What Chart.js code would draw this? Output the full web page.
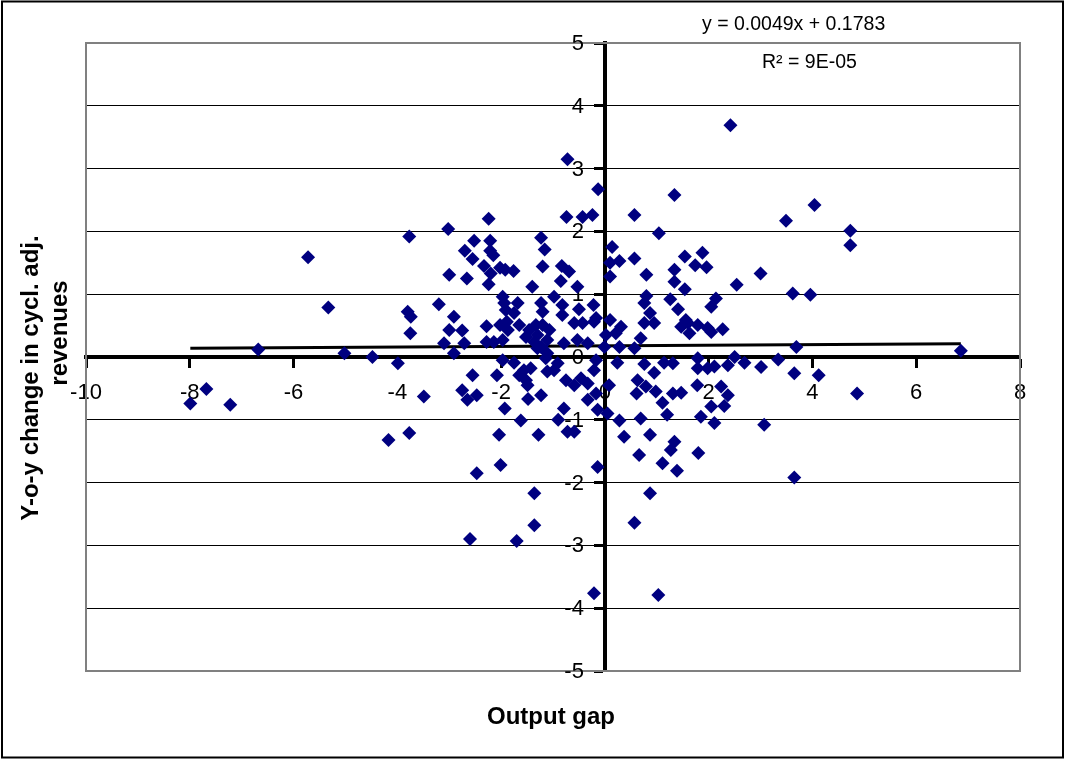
<!DOCTYPE html>
<html>
<head>
<meta charset="utf-8">
<script src="https://cdn.jsdelivr.net/npm/chart.js@4.4.1/dist/chart.umd.min.js"></script>
<style>
  html, body { margin: 0; padding: 0; background: #fff; }
  #wrap { width: 1066px; height: 760px; position: relative; }
</style>
</head>
<body>
<div id="wrap"><canvas id="chart"></canvas></div>
<script>
// output gap (x) and y-o-y change in cyclically adjusted revenues (y)
const outputGap = [
  -7.99, -7.68, -7.22, -6.68, -5.72, -5.33, -5.02, -4.48, -4.17, -3.99,
  -3.77, -3.80, -3.74, -3.75, -3.77, -3.49, -3.20, -3.02, -3.00, -3.00,
  -3.10, -2.91, -2.91, -2.75, -2.71, -2.75, -2.65, -2.47, -2.55, -2.70,
  -2.66, -2.55, -2.52, -2.60, -2.47, -2.33, -2.24, -2.21, -2.21, -2.15,
  -2.20, -2.24, -2.28, -2.28, -2.14, -2.08, -2.04, -2.01, -2.02, -2.02,
  -1.97, -1.94, -1.91, -1.92, -1.89, -1.87, -1.97, -1.97, -1.93, -1.76,
  -1.75, -1.68, -1.65, -1.75, -1.65, -1.56, -1.62, -1.70, -1.52, -1.46,
  -1.43, -1.52, -1.49, -1.48, -1.40, -1.36, -1.36, -1.36, -1.33, -1.30,
  -1.30, -1.28, -1.23, -1.23, -1.23, -1.23, -1.20, -1.20, -1.20, -1.16,
  -1.14, -1.11, -1.11, -1.11, -1.07, -0.98, -0.98, -0.91, -0.90, -0.85,
  -0.83, -0.82, -0.82, -0.79, -0.79, -0.75, -0.74, -0.72, -0.72, -0.69,
  -0.59, -0.59, -0.59, -0.53, -0.53, -0.50, -0.46, -0.43, -0.43, -0.33,
  -0.33, -0.33, -0.24, -0.22, -0.21, -0.21, -0.21, -0.17, -0.17, -0.17,
  -0.14, -0.14, -0.13, -0.01, 0.02, 0.05, 0.08, 0.10, 0.10, 0.10,
  0.14, 0.21, 0.24, 0.28, 0.28, 0.28, 0.31, 0.37, 0.57, 0.57,
  0.57, 0.57, 0.61, 0.63, 0.66, 0.69, 0.69, 0.76, 0.76, 0.76,
  0.79, 0.80, 0.80, 0.87, 0.87, 0.87, 0.95, 0.95, 0.98, 1.03,
  1.04, 1.11, 1.11, 1.14, 1.20, 1.26, 1.27, 1.31, 1.31, 1.34,
  1.34, 1.34, 1.34, 1.39, 1.41, 1.47, 1.47, 1.54, 1.54, 1.56,
  1.60, 1.63, 1.74, 1.78, 1.79, 1.79, 1.79, 1.80, 1.85, 1.88,
  1.96, 1.98, 1.98, 2.05, 2.05, 2.05, 2.11, 2.11, 2.14, 2.24,
  2.27, 2.30, 2.37, 2.37, 2.42, 2.50, 2.54, 2.69, 3.00, 3.01,
  3.07, 3.34, 3.49, 3.62, 3.65, 3.65, 3.69, 3.96, 4.04, 4.12,
  4.73, 4.73, 4.86, 6.86
];
const revenueChange = [
  -0.74, -0.51, -0.76, 0.12, 1.59, 0.79, 0.06, 0.00, -1.32, -0.10,
  1.92, 0.72, 0.64, 0.38, -1.21, -0.63, 0.84, 2.04, 1.31, 0.43,
  0.22, 0.64, 0.06, 0.42, 0.22, -0.53, -0.68, -0.61, -0.29, 1.69,
  1.25, 1.56, 1.85, -2.90, -1.85, 1.45, 2.20, 1.85, 1.69, 1.62,
  1.33, 1.16, 0.49, 0.24, 0.24, -0.29, -1.24, -1.72, 1.42, 0.51,
  0.96, 0.86, 0.75, 1.39, 0.56, 0.43, 0.27, -0.05, -0.82, 1.37,
  0.70, 0.86, 0.51, -0.09, -0.29, -0.21, -1.01, -2.93, 0.32, 0.43,
  -0.18, -0.37, -0.45, -0.67, 1.12, 0.24, -2.17, -2.68, 0.51, 0.35,
  0.14, -1.24, 1.90, 0.86, 0.16, -0.61, 1.44, 0.72, 0.51, 1.71,
  -0.02, 0.27, 0.06, -0.23, 0.43, 0.96, -0.21, -0.10, -1.00, 1.21,
  1.45, 0.83, 0.67, 0.22, -0.82, -0.37, 2.23, 3.15, -1.19, 1.36,
  0.54, -0.45, -1.19, 1.12, 0.27, 0.76, -0.34, 2.23, 0.54, 0.22,
  -0.42, -0.68, 2.26, 0.83, 0.56, -0.21, -3.76, 0.62, -0.05, -0.58,
  -0.84, -1.75, 2.67, 0.16, 0.35, -0.90, -0.45, 1.50, 1.28, 0.59,
  1.75, 0.38, -0.09, 1.53, 0.16, -1.01, 0.48, -1.27, 2.26, 1.57,
  0.14, -2.64, -0.58, -0.37, -1.56, 0.30, -0.98, 0.86, 0.54, -0.11,
  -0.47, 1.31, 0.97, 0.70, -1.24, -2.17, 0.54, -0.25, -0.55, -3.79,
  1.97, -0.73, -1.69, -0.09, -0.92, 0.92, -1.48, -0.10, -0.58, 2.58,
  1.39, 1.20, -1.35, -1.81, 0.76, 0.48, -0.57, 1.60, 1.08, 0.59,
  0.54, 0.38, 1.46, -0.45, 0.51, -0.02, -0.18, -1.53, -0.95, 1.66,
  1.43, 0.46, -0.18, 0.80, 0.40, -0.79, -0.15, -1.05, 0.93, -0.47,
  0.44, -0.78, -0.13, -0.61, 3.69, 0.00, 1.15, -0.09, 1.33, -0.16,
  -1.08, -0.04, 2.17, 1.01, -0.26, -1.92, 0.16, 0.99, 2.42, -0.29,
  2.01, 1.78, -0.58, 0.10
];

// linear trendline as printed on the chart
const trendSlope = 0.0049;
const trendIntercept = 0.1783;
const trendLabel = "y = 0.0049x + 0.1783";
const rSquaredLabel = "R\u00b2 = 9E-05";

const xRange = [-10, 8];
const yRange = [-5, 5];
const xTitle = "Output gap";
const yTitle = ["Y-o-y change in cycl. adj.", "revenues"];

const FONT = "'Liberation Sans', Arial, sans-serif";

const points = outputGap.map((x, i) => ({ x: x, y: revenueChange[i] }));
const xMin = Math.min(...outputGap);
const xMax = Math.max(...outputGap);
const trend = [xMin, xMax].map((x) => ({ x: x, y: trendSlope * x + trendIntercept }));

const chartText = {
  id: "chartText",
  beforeDraw(chart) {
    const ctx = chart.ctx;
    ctx.save();
    ctx.fillStyle = "#fff";
    ctx.fillRect(0, 0, chart.width, chart.height);
    ctx.restore();
  },
  beforeDatasetsDraw(chart) {
    const { ctx, chartArea: a, scales } = chart;
    ctx.save();
    // grey plot area frame
    ctx.strokeStyle = "#808080";
    ctx.lineWidth = 2;
    ctx.strokeRect(a.left, a.top, a.right - a.left, a.bottom - a.top);

    // y tick labels, left of the crossing axis (chart.js puts them on the line)
    const axisX = scales.x.getPixelForValue(0);
    ctx.fillStyle = "#000";
    ctx.font = "22px " + FONT;
    ctx.textAlign = "right";
    ctx.textBaseline = "middle";
    scales.y.ticks.forEach((t) => {
      ctx.fillText(String(t.value), axisX - 21, scales.y.getPixelForValue(t.value) + 1);
    });
    ctx.restore();
  },
  afterDraw(chart) {
    const ctx = chart.ctx;
    ctx.save();
    ctx.fillStyle = "#000";

    // trendline equation
    ctx.font = "19.5px " + FONT;
    ctx.textAlign = "left";
    ctx.textBaseline = "alphabetic";
    ctx.fillText(trendLabel, 702, 30);
    ctx.fillText(rSquaredLabel, 762, 68);

    // axis titles
    ctx.font = "bold 24px " + FONT;
    ctx.textAlign = "center";
    ctx.fillText(xTitle, 551, 724);

    ctx.save();
    ctx.translate(38, 378);
    ctx.rotate(-Math.PI / 2);
    ctx.fillText(yTitle[0], 0, 0);
    ctx.restore();
    ctx.save();
    ctx.translate(67, 333);
    ctx.rotate(-Math.PI / 2);
    ctx.fillText(yTitle[1], 0, 0);
    ctx.restore();

    // outer frame
    ctx.strokeStyle = "#000";
    ctx.lineWidth = 2;
    ctx.strokeRect(2, 1.5, 1061, 756);
    ctx.restore();
  }
};

new Chart(document.getElementById("chart"), {
  type: "scatter",
  data: {
    datasets: [
      {
        data: points,
        pointStyle: "rectRot",
        pointRadius: 7,
        backgroundColor: "#000080",
        borderColor: "#000080",
        borderWidth: 0
      },
      {
        data: trend,
        showLine: true,
        borderColor: "#000",
        borderWidth: 3,
        pointRadius: 0
      }
    ]
  },
  plugins: [chartText],
  options: {
    responsive: true,
    maintainAspectRatio: false,
    animation: false,
    devicePixelRatio: 1,
    layout: { padding: { left: 86, top: 43, right: 46, bottom: 89 } },
    plugins: {
      legend: { display: false },
      tooltip: { enabled: false }
    },
    scales: {
      x: {
        type: "linear",
        min: xRange[0],
        max: xRange[1],
        position: { y: 0 },
        ticks: {
          stepSize: 2,
          color: "#000",
          padding: 14,
          font: { family: FONT, size: 22 }
        },
        grid: {
          drawOnChartArea: false,
          drawTicks: true,
          tickLength: 9,
          tickWidth: 3,
          tickColor: "#000"
        },
        border: { color: "#000", width: 4 }
      },
      y: {
        type: "linear",
        min: yRange[0],
        max: yRange[1],
        position: { x: 0 },
        ticks: {
          stepSize: 1,
          display: false
        },
        grid: {
          color: (c) => (c.tick && Math.abs(c.tick.value) === 5 ? "rgba(0,0,0,0)" : "#000"),
          lineWidth: 1,
          drawTicks: true,
          tickLength: 9,
          tickWidth: 3,
          tickColor: "#000"
        },
        border: { color: "#000", width: 4 }
      }
    }
  }
});
</script>
</body>
</html>
